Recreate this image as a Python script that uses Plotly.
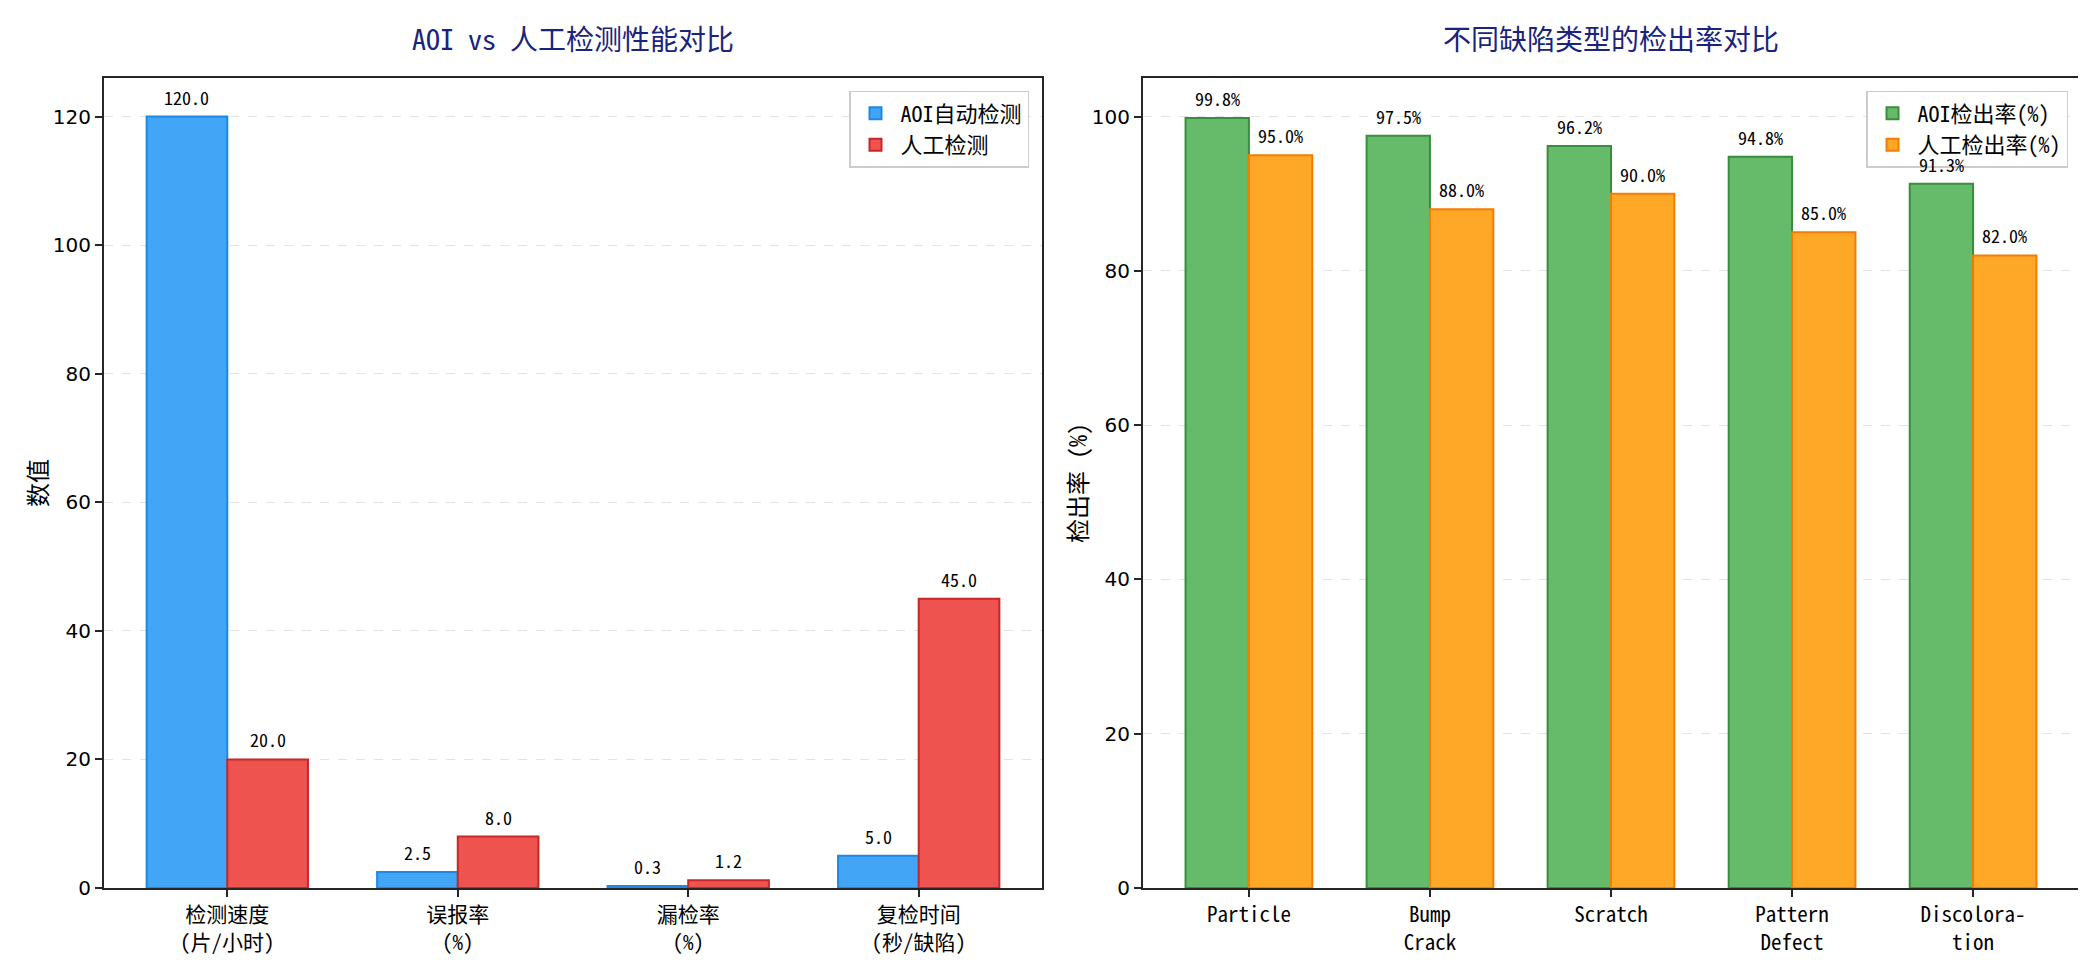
import plotly.graph_objects as go

# ---- data ----
metric_labels = ["检测速度<br>(片/小时)", "误报率<br>(%)", "漏检率<br>(%)", "复检时间<br>(秒/缺陷)"]
aoi_values = [120.0, 2.5, 0.3, 5.0]
manual_values = [20.0, 8.0, 1.2, 45.0]

defect_labels = ["Particle", "Bump<br>Crack", "Scratch", "Pattern<br>Defect", "Discolora-<br>tion"]
aoi_rates = [99.8, 97.5, 96.2, 94.8, 91.3]
manual_rates = [95.0, 88.0, 90.0, 85.0, 82.0]

left_title = "AOI vs 人工检测性能对比"
right_title = "不同缺陷类型的检出率对比"

# ---- style ----
W, H = 2086, 960
ML, MR, MT, MB = 96, 15, 70, 77
PW = W - ML - MR
PH = H - MT - MB
def px_x(x):
    return (x - ML) / PW
def px_y(y):
    return (H - MB - y) / PH

CJK = "Noto Sans Mono CJK SC, Noto Sans CJK SC, sans-serif"
NUM = "DejaVu Sans, sans-serif"
AXC = "#262626"
BAR_W = 0.35

fig = go.Figure()
annotations = []

def add_bars(cats, vals, name, fill, edge, xa, ya, legend, fmt, offset):
    xs = [i + offset for i in range(len(cats))]
    fig.add_trace(go.Bar(
        x=xs, y=vals, name=name, xaxis=xa, yaxis=ya, legend=legend,
        width=BAR_W,
        marker=dict(color=fill, line=dict(color=edge, width=2)),
        hoverinfo="skip",
    ))
    for x, v in zip(xs, vals):
        annotations.append(dict(
            x=x, y=v, xref=xa, yref=ya, text=fmt.format(v), showarrow=False,
            xanchor="center", yanchor="bottom", yshift=5,
            font=dict(family=CJK, size=18, color="black"),
        ))

add_bars(metric_labels, aoi_values, "AOI自动检测", "#42A5F5", "#1E88E5", "x", "y", "legend", "{:.1f}", -BAR_W / 2)
add_bars(metric_labels, manual_values, "人工检测", "#EF5350", "#C62828", "x", "y", "legend", "{:.1f}", BAR_W / 2)
add_bars(defect_labels, aoi_rates, "AOI检出率(%)", "#66BB6A", "#388E3C", "x2", "y2", "legend2", "{:.1f}%", -BAR_W / 2)
add_bars(defect_labels, manual_rates, "人工检出率(%)", "#FFA726", "#F57C00", "x2", "y2", "legend2", "{:.1f}%", BAR_W / 2)

axis_common = dict(
    showline=True, linecolor=AXC, linewidth=2, mirror=True,
    ticks="outside", ticklen=7, tickwidth=1.7, tickcolor=AXC,
    zeroline=False,
)

annotations += [
    dict(text=left_title, x=(0 + px_x(1034)) / 2, y=px_y(30), xref="paper", yref="paper",
         showarrow=False, xanchor="center", yanchor="middle",
         font=dict(family=CJK, size=28, color="#1A237E")),
    dict(text=right_title, x=(px_x(1135) + 1) / 2, y=px_y(30), xref="paper", yref="paper",
         showarrow=False, xanchor="center", yanchor="middle",
         font=dict(family=CJK, size=28, color="#1A237E")),
    dict(text="数值", x=px_x(28), y=0.5, xref="paper", yref="paper", textangle=-90,
         showarrow=False, xanchor="center", yanchor="middle",
         font=dict(family=CJK, size=24, color="black")),
    dict(text="检出率 (%)", x=px_x(1068), y=0.5, xref="paper", yref="paper", textangle=-90,
         showarrow=False, xanchor="center", yanchor="middle",
         font=dict(family=CJK, size=24, color="black")),
]

legend_style = dict(
    xanchor="right", yanchor="top",
    bgcolor="rgba(255,255,255,0.85)", bordercolor="#cccccc", borderwidth=1.5,
    font=dict(family=CJK, size=22, color="black"), itemwidth=40, tracegroupgap=4,
)

fig.update_layout(
    width=W, height=H,
    margin=dict(l=ML, r=MR, t=MT, b=MB),
    paper_bgcolor="white", plot_bgcolor="white",
    barmode="overlay",
    font=dict(family=CJK, color="black"),
    xaxis=dict(domain=[0, px_x(1034)], range=[-0.535, 3.535],
               tickvals=list(range(len(metric_labels))), ticktext=metric_labels, showgrid=False,
               tickfont=dict(family=CJK, size=21, color="black"), **axis_common),
    yaxis=dict(domain=[0, 1], range=[0, 126], tickvals=[0, 20, 40, 60, 80, 100, 120],
               showgrid=True, gridcolor="#e3e3e3", griddash="dash", gridwidth=1.3,
               tickfont=dict(family=NUM, size=20, color="black"), **axis_common),
    xaxis2=dict(domain=[px_x(1135), 1], range=[-0.585, 4.585], anchor="y2",
                tickvals=list(range(len(defect_labels))), ticktext=defect_labels, showgrid=False,
                tickfont=dict(family=CJK, size=21, color="black"), **axis_common),
    yaxis2=dict(domain=[0, 1], range=[0, 105], anchor="x2",
                tickvals=[0, 20, 40, 60, 80, 100],
                showgrid=True, gridcolor="#e3e3e3", griddash="dash", gridwidth=1.3,
                tickfont=dict(family=NUM, size=20, color="black"), **axis_common),
    legend=dict(x=px_x(1021), y=px_y(83), **legend_style),
    legend2=dict(x=px_x(2060), y=px_y(83), **legend_style),
    annotations=annotations,
)

fig.write_html("out.html")
